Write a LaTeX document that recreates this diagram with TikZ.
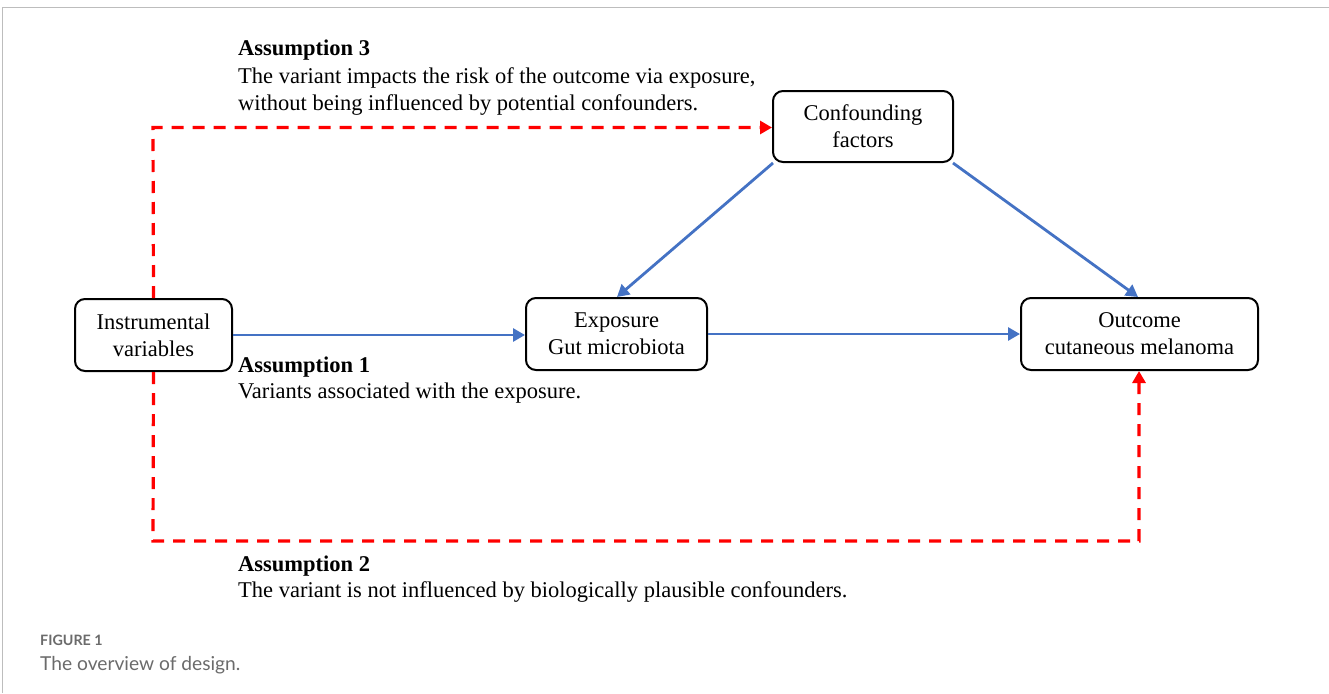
\documentclass[tikz,border=0pt]{standalone}
\usepackage{fontspec}
\setmainfont{Liberation Serif}
\newfontfamily\capfont{Lato}
\usetikzlibrary{arrows.meta}
\definecolor{bluearrow}{HTML}{4472C4}
\definecolor{capgray}{HTML}{6B6B6B}
\definecolor{framegray}{HTML}{BDBDBD}
\tikzset{
  x=1pt, y=-1pt,
  box/.style={draw=black, line width=2pt, rounded corners=10pt, align=center, inner sep=0pt,
    font=\fontsize{22.5}{27}\selectfont},
  blueline/.style={draw=bluearrow, line width=2.8pt, -{Triangle[length=12pt,width=13pt]}},
  redline/.style={draw=red, line width=3.2pt, dash pattern=on 12pt off 9pt, -{Triangle[length=12pt,width=13pt]}},
  txt/.style={anchor=base west, inner sep=0pt, font=\fontsize{22.5}{27}\selectfont},
  btxt/.style={txt, font=\fontsize{22.5}{27}\selectfont\bfseries},
}
\begin{document}
\begin{tikzpicture}
\useasboundingbox (0,0) rectangle (1329,693);
\fill[white] (0,0) rectangle (1329,693);
% frame
\draw[framegray, line width=1pt] (2.5,693) -- (2.5,7.5) -- (1329,7.5);
% boxes
\node[box, minimum width=157pt, minimum height=72pt] (iv) at (153.5,335) {Instrumental\\variables};
\node[box, minimum width=180pt, minimum height=71pt] (cf) at (863,126.5) {Confounding\\factors};
\node[box, minimum width=181pt, minimum height=72pt] (ex) at (616.5,334) {Exposure\\Gut microbiota};
\node[box, minimum width=237pt, minimum height=72pt] (oc) at (1139.5,334) {Outcome\\cutaneous melanoma};
% blue arrows
\draw[blueline] (iv.east |- 0,335) -- (ex.west |- 0,335);
\draw[blueline] (ex.east |- 0,334) -- (oc.west |- 0,334);
\draw[blueline] (cf.south west) ++(1,0) -- (ex.north -| 617,0);
\draw[blueline] (cf.south east) ++(-1,0) -- (oc.north -| 1138,0);
% red dashed
\coordinate (tl) at (153,127.5);
\coordinate (bl) at (153,541);
\coordinate (br) at (1139,541);
\draw[redline] (iv.north) -- (tl) -- (cf.west |- tl);
\draw[redline] (iv.south) -- (bl) -- (br) -- (oc.south -| br);
% texts
\node[btxt] (a3) at (238,56) {Assumption 3};
\node[txt] (a3a) at (238,83) {The variant impacts the risk of the outcome via exposure,};
\node[txt] (a3b) at (238,110) {without being influenced by potential confounders.};
\node[btxt] (a1) at (238,372) {Assumption 1};
\node[txt] (a1a) at (238,398) {Variants associated with the exposure.};
\node[btxt] (a2) at (238,571) {Assumption 2};
\node[txt] (a2a) at (238,597) {The variant is not influenced by biologically plausible confounders.};
% caption
\node[anchor=base west, inner sep=0pt, text=capgray, font=\capfont\bfseries\fontsize{14.3}{16}\selectfont] (fig) at (40,645) {FIGURE 1};
\node[anchor=base west, inner sep=0pt, text=capgray, font=\capfont\fontsize{19.2}{22}\selectfont] (cap) at (40,670) {The overview of design.};
\end{tikzpicture}
\end{document}
